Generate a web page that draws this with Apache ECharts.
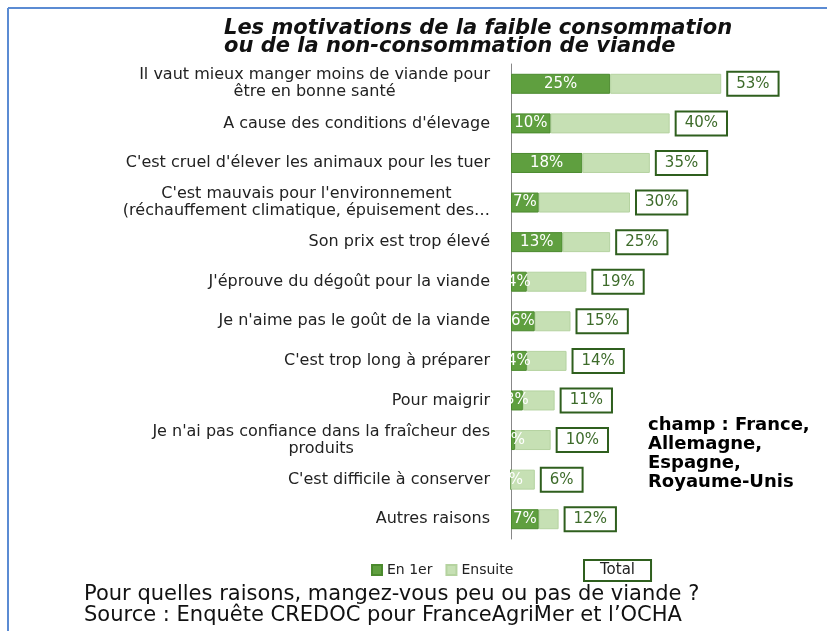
<!DOCTYPE html>
<html>
<head>
<meta charset="utf-8">
<script src="https://cdn.jsdelivr.net/npm/echarts@6/dist/echarts.min.js"></script>
<style>
  html, body { margin: 0; padding: 0; background: #fff; }
  #chart { width: 827px; height: 631px; }
</style>
</head>
<body>
<div id="chart"></div>
<script>
// categories (top to bottom)
var categories = [
  'Il vaut mieux manger moins de viande pour\nêtre en bonne santé',
  'A cause des conditions d\'élevage',
  'C\'est cruel d\'élever les animaux pour les tuer',
  'C\'est mauvais pour l\'environnement\n(réchauffement climatique, épuisement des…',
  'Son prix est trop élevé',
  'J\'éprouve du dégoût pour la viande',
  'Je n\'aime pas le goût de la viande',
  'C\'est trop long à préparer',
  'Pour maigrir',
  'Je n\'ai pas confiance dans la fraîcheur des\nproduits',
  'C\'est difficile à conserver',
  'Autres raisons'
]
// citée en premier
var en1er = [25, 10, 18, 7, 13, 4, 6, 4, 3, 1, 0, 7]
// total des citations
var total = [53, 40, 35, 30, 25, 19, 15, 14, 11, 10, 6, 12]
// citée ensuite = total - en premier
var ensuite = total.map(function (t, i) { return t - en1er[i] })

var champText = 'champ : France,\nAllemagne,\nEspagne,\nRoyaume-Unis'
var footerText = 'Pour quelles raisons, mangez-vous peu ou pas de viande ?\nSource : Enquête CREDOC pour FranceAgriMer et l\u2019OCHA'
var titleText = 'Les motivations de la faible consommation\nou de la non-consommation de viande'

var font = 'DejaVu Sans'
var chart = echarts.init(document.getElementById('chart'))

chart.setOption({
  animation: false,
  title: {
    text: titleText,
    left: 219,
    top: 15,
    textStyle: {
      fontFamily: font,
      fontSize: 21,
      fontStyle: 'italic',
      fontWeight: 'bold',
      color: '#111',
      lineHeight: 18
    }
  },
  legend: [
    {
      left: 366,
      top: 558,
      itemWidth: 10,
      itemHeight: 10,
      itemGap: 13,
      textStyle: { fontFamily: font, fontSize: 14, color: '#222' },
      data: [
        { name: 'En 1er', icon: 'rect' },
        { name: 'Ensuite', icon: 'rect' }
      ]
    },
    {
      left: 564,
      top: 554,
      itemWidth: 10,
      itemHeight: 10,
      textStyle: {
        fontFamily: font,
        fontSize: 15,
        color: '#222',
        borderColor: '#2f5f1e',
        borderWidth: 2,
        padding: [5, 16, 1, 16]
      },
      data: [{ name: 'Total', icon: 'none' }]
    }
  ],
  grid: {
    left: 511,
    right: 78,
    top: 64,
    bottom: 92
  },
  xAxis: {
    type: 'value',
    min: 0,
    max: 60,
    show: false
  },
  yAxis: {
    type: 'category',
    inverse: true,
    data: categories,
    axisTick: { show: false },
    axisLine: { lineStyle: { color: '#888', width: 1 } },
    axisLabel: {
      margin: 21,
      formatter: function (v) {
        return v.split('\n').map(function (l) { return '{c|' + l + '}' }).join('\n')
      },
      rich: {
        c: {
          align: 'center',
          fontFamily: font,
          fontSize: 16,
          lineHeight: 17,
          color: '#222'
        }
      }
    }
  },
  series: [
    {
      name: 'En 1er',
      type: 'bar',
      stack: 'a',
      barWidth: 20,
      data: en1er,
      itemStyle: { color: '#5f9f3f', borderColor: '#4b8a2e', borderWidth: 1 },
      label: {
        show: true,
        position: 'inside',
        formatter: '{c}%',
        color: '#fff',
        fontFamily: font,
        fontSize: 15
      }
    },
    {
      name: 'Ensuite',
      type: 'bar',
      stack: 'a',
      barWidth: 20,
      data: ensuite,
      itemStyle: { color: '#c6e0b4', borderColor: '#b5d3a0', borderWidth: 1 }
    },
    {
      name: 'Total',
      type: 'bar',
      barWidth: 20,
      barGap: '-100%',
      data: total,
      itemStyle: { color: 'rgba(0,0,0,0)' },
      label: {
        show: true,
        position: 'right',
        distance: 7,
        formatter: '{c}%',
        color: '#3d6b2a',
        fontFamily: font,
        fontSize: 15,
        borderColor: '#2f5f1e',
        borderWidth: 2,
        padding: [4, 8, 3, 8],
        backgroundColor: '#fff'
      }
    }
  ],
  graphic: [
    {
      type: 'line',
      shape: { x1: 8, y1: 8, x2: 8, y2: 631 },
      style: { stroke: '#5b8bd3', lineWidth: 2 }
    },
    {
      type: 'line',
      shape: { x1: 8, y1: 8, x2: 827, y2: 8 },
      style: { stroke: '#5b8bd3', lineWidth: 2 }
    },
    {
      type: 'text',
      left: 648,
      top: 416,
      style: {
        text: champText,
        fontFamily: font,
        fontSize: 18,
        fontWeight: 'bold',
        lineHeight: 19,
        fill: '#000'
      }
    },
    {
      type: 'text',
      left: 84,
      top: 584,
      style: {
        text: footerText,
        fontFamily: font,
        fontSize: 21,
        lineHeight: 21,
        fill: '#111'
      }
    }
  ]
})
</script>
</body>
</html>
